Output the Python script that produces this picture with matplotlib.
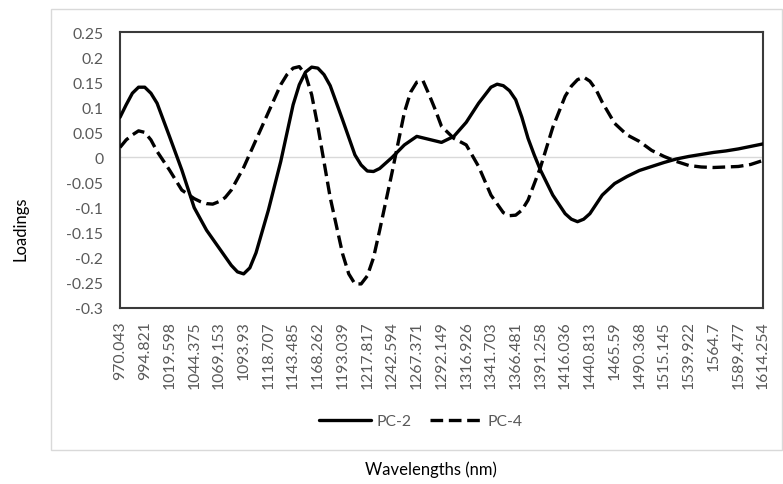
import matplotlib.pyplot as plt
import numpy as np
from matplotlib.patches import Rectangle

# wavelength tick labels (every 10th band)
wavelength_labels = [
    "970.043", "994.821", "1019.598", "1044.375", "1069.153", "1093.93",
    "1118.707", "1143.485", "1168.262", "1193.039", "1217.817", "1242.594",
    "1267.371", "1292.149", "1316.926", "1341.703", "1366.481", "1391.258",
    "1416.036", "1440.813", "1465.59", "1490.368", "1515.145", "1539.922",
    "1564.7", "1589.477", "1614.254",
]

# band index (0 = 970.043 nm) and loading
pc2_band = [
    0, 2.5, 5, 7.5, 10, 12.5, 15, 20, 25, 30, 35, 40, 45, 47.5, 50, 52.5, 55,
    60, 65, 70, 72.5, 75, 77.5, 80, 82.5, 85, 90, 95, 97.5, 100, 102.5, 105,
    110, 115, 120, 125, 130, 135, 140, 145, 150, 152.5, 155, 157.5, 160,
    162.5, 165, 167.5, 170, 175, 180, 182.5, 185, 187.5, 190, 195, 200, 205,
    210, 215, 220, 225, 230, 235, 240, 245, 250, 255, 260,
]
pc2 = [
    0.080, 0.105, 0.128, 0.140, 0.140, 0.128, 0.108, 0.042, -0.025, -0.100,
    -0.145, -0.180, -0.215, -0.228, -0.232, -0.220, -0.190, -0.105, -0.008,
    0.105, 0.145, 0.170, 0.180, 0.178, 0.165, 0.143, 0.075, 0.005, -0.015,
    -0.027, -0.028, -0.022, 0.000, 0.025, 0.042, 0.036, 0.030, 0.042, 0.070,
    0.108, 0.140, 0.146, 0.143, 0.133, 0.115, 0.080, 0.038, 0.005, -0.025,
    -0.075, -0.112, -0.123, -0.128, -0.123, -0.112, -0.075, -0.052, -0.038,
    -0.026, -0.018, -0.010, -0.003, 0.002, 0.006, 0.010, 0.013, 0.017, 0.022,
    0.027,
]

pc4_band = [
    0, 2.5, 5, 7.5, 10, 12.5, 15, 20, 25, 30, 32.5, 35, 37.5, 40, 42.5, 45,
    50, 55, 60, 65, 67.5, 70, 72.5, 75, 77.5, 80, 85, 90, 92.5, 95, 97.5, 100,
    102.5, 105, 110, 115, 117.5, 120, 122.5, 125, 127.5, 130, 135, 140, 145,
    150, 155, 157.5, 160, 162.5, 165, 170, 175, 180, 182.5, 185, 187.5, 190,
    192.5, 195, 200, 205, 210, 215, 220, 225, 230, 235, 240, 245, 250, 255,
    260,
]
pc4 = [
    0.020, 0.035, 0.045, 0.053, 0.050, 0.035, 0.012, -0.025, -0.065, -0.082,
    -0.088, -0.092, -0.093, -0.088, -0.080, -0.065, -0.020, 0.035, 0.090,
    0.145, 0.165, 0.178, 0.181, 0.165, 0.125, 0.062, -0.080, -0.192, -0.232,
    -0.252, -0.252, -0.236, -0.200, -0.145, -0.030, 0.090, 0.130, 0.150,
    0.153, 0.125, 0.095, 0.062, 0.038, 0.025, -0.018, -0.075, -0.110, -0.116,
    -0.115, -0.105, -0.085, -0.020, 0.060, 0.122, 0.142, 0.155, 0.160, 0.152,
    0.135, 0.110, 0.068, 0.045, 0.032, 0.014, 0.002, -0.008, -0.016, -0.019,
    -0.020, -0.019, -0.018, -0.014, -0.006,
]

yticks = np.arange(-0.3, 0.2501, 0.05)

FONT = "Lato"
GREY = "#595959"

fig = plt.figure(figsize=(7.83, 4.85), dpi=100)
ax = fig.add_axes([120 / 783, 1 - 309 / 485, 643 / 783, 276 / 485])

# outer chart border
fig.patches.append(Rectangle((51 / 783, 1 - 451 / 485), 731 / 783, 441 / 485,
                             transform=fig.transFigure, fill=False,
                             edgecolor="#d9d9d9", linewidth=1.0))

ax.axhline(0, color="#d9d9d9", linewidth=1.0, zorder=1)
ax.plot(pc2_band, pc2, color="black", linewidth=2.4, label="PC-2",
        solid_joinstyle="round", solid_capstyle="round", zorder=3)
ax.plot(pc4_band, pc4, color="black", linewidth=2.4, label="PC-4",
        linestyle=(0, (3.8, 1.7)), dash_capstyle="butt", zorder=3)

ax.set_xlim(0, 260)
ax.set_ylim(-0.3, 0.25)
ax.set_xticks(range(0, 261, 10))
ax.set_xticklabels(wavelength_labels, rotation=90, fontsize=11.3,
                   color=GREY, family=FONT)
ax.set_yticks(yticks)
ax.set_yticklabels([f"{v:g}" if abs(v) > 1e-9 else "0" for v in yticks],
                   fontsize=11.3, color=GREY, family=FONT)
ax.tick_params(axis="both", length=0)
ax.tick_params(axis="y", pad=12)
ax.tick_params(axis="x", pad=9)

for spine in ax.spines.values():
    spine.set_color("#3a3a3a")
    spine.set_linewidth(1.5)

fig.text(20 / 783, 1 - 229 / 485, "Loadings", rotation=90, ha="center",
         va="center", fontsize=12, family=FONT, color="black")
fig.text(431 / 783, 1 - 470 / 485, "Wavelengths (nm)", ha="center",
         va="center", fontsize=12, family=FONT, color="black")

leg = fig.legend(loc="center", bbox_to_anchor=(421 / 783, 1 - 422 / 485),
                 ncol=2, frameon=False, handlelength=3.3, handletextpad=0.35,
                 columnspacing=1.2, prop={"family": FONT, "size": 11.3})
for t in leg.get_texts():
    t.set_color(GREY)

fig.savefig("out.png", dpi=100)
